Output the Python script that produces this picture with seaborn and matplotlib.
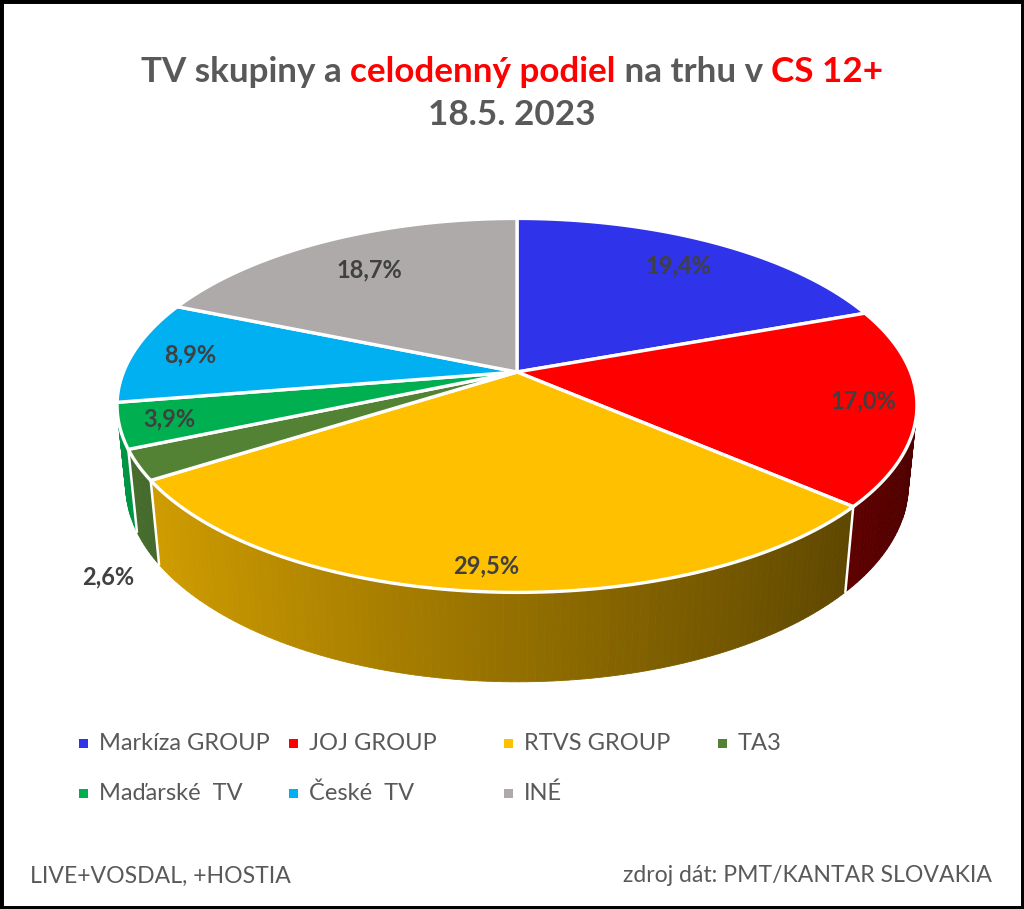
import numpy as np
import matplotlib
matplotlib.use("Agg")
import matplotlib.pyplot as plt
from matplotlib.patches import Polygon, Rectangle
from matplotlib.colors import to_rgb
import seaborn as sns

# data
groups = ["Markíza GROUP", "JOJ GROUP", "RTVS GROUP", "TA3", "Maďarské  TV", "České  TV", "INÉ"]
shares = [19.4, 17.0, 29.5, 2.6, 3.9, 8.9, 18.7]
colors = ["#2F33EA", "#FF0000", "#FFC000", "#548235", "#00B050", "#00B0F0", "#AEAAAA"]

title_parts = [("TV skupiny a ", "#595959"), ("celodenný podiel", "#FF0000"),
               (" na trhu v ", "#595959"), ("CS 12+", "#FF0000")]
subtitle = "18.5. 2023"
note_left = "LIVE+VOSDAL, +HOSTIA"
note_right = "zdroj dát: PMT/KANTAR SLOVAKIA"

# where each data label sits (radius fraction, height)
label_r = [0.8, 0.87, 0.9, 1.1, 0.88, 0.85, 0.75]
label_z = [0, 0, 0, -0.28, 0, 0, 0]

sns.set_theme(style="white")
plt.rcParams['font.family'] = ['Lato', 'DejaVu Sans']

W, H = 1024, 909
fig = plt.figure(figsize=(W / 100, H / 100), dpi=100)
ax = fig.add_axes([0, 0, 1, 1])
ax.set_xlim(0, W)
ax.set_ylim(H, 0)
ax.axis('off')

# 3d pie projection
CX, CY, S = 517, 372, 393.5
SIN_E, COS_E = 0.46, 0.888
DIST = 4.97
DEPTH = 0.229


def proj(X, Y, Z):
    v = Z * COS_E - Y * SIN_E
    d = Y * COS_E + Z * SIN_E
    k = DIST / (DIST - d)
    return CX + S * X * k, CY - S * v * k


def rim(t, z=0.0, r=1.0):
    return proj(r * np.cos(t), r * np.sin(t), z)


def shade(c, f):
    return tuple(min(1, x * f) for x in to_rgb(c))


angles = np.deg2rad(-90 + np.concatenate([[0], np.cumsum(shares)]) * 3.6)

# visible part of the rim
t_lo = np.arcsin(COS_E / DIST)
t_hi = np.pi - t_lo

# side walls (front half only)
for i, c in enumerate(colors):
    t0, t1 = max(angles[i], 0), min(angles[i + 1], t_hi)
    if t1 <= t0:
        continue
    ts = np.linspace(t0, t1, max(3, int(np.degrees(t1 - t0)) + 2))
    for a, b in zip(ts[:-1], ts[1:]):
        f = 0.58 - 0.28 * np.cos((a + b) / 2)
        col = shade(c, f)
        quad = [rim(a), rim(b), rim(b, -DEPTH), rim(a, -DEPTH)]
        ax.add_patch(Polygon(quad, closed=True, facecolor=col, edgecolor=col, lw=0.6))

for t in angles:
    tt = np.mod(t, 2 * np.pi)
    if t_lo < tt < t_hi:
        p, q = rim(tt), rim(tt, -DEPTH)
        ax.plot([p[0], q[0]], [p[1], q[1]], color="white", lw=1.8)

# top faces
for i, c in enumerate(colors):
    ts = np.linspace(angles[i], angles[i + 1], 120)
    pts = [proj(0, 0, 0)] + [rim(t) for t in ts]
    ax.add_patch(Polygon(pts, closed=True, facecolor=c, edgecolor="white",
                         lw=2.4, joinstyle="round"))

# data labels
for i, v in enumerate(shares):
    mid = (angles[i] + angles[i + 1]) / 2
    x, y = rim(mid, label_z[i], label_r[i])
    ax.text(x, y, f"{v:.1f}".replace(".", ",") + "%", ha="center", va="center",
            fontsize=17, fontweight="bold", color="#404040")

# title with coloured parts
fig.canvas.draw()
rend = fig.canvas.get_renderer()


def text_w(s, **kw):
    t = ax.text(0, 0, s, **kw)
    w = t.get_window_extent(rend).width
    t.remove()
    return w


tkw = dict(fontsize=25.2, fontweight="bold")
full = "".join(p for p, _ in title_parts)
total = text_w(full, **tkw)
bar = text_w("|", **tkw)
x0 = W / 2 - total / 2
prefix = ""
for part, col in title_parts:
    off = text_w(prefix + "|", **tkw) - bar if prefix else 0
    ax.text(x0 + off, 72, part, color=col, ha="left", va="center", **tkw)
    prefix += part
ax.text(W / 2, 115, subtitle, color="#595959", ha="center", va="center", **tkw)

# legend
leg_x = [83, 293, 508, 722]
leg_y = [743, 793]
for i, (g, c) in enumerate(zip(groups, colors)):
    lx, ly = leg_x[i % 4], leg_y[i // 4]
    ax.add_patch(Rectangle((lx - 4, ly - 4), 9, 9, facecolor=c, edgecolor="none"))
    ax.text(lx + 16, ly, g, ha="left", va="center", fontsize=17, color="#595959")

ax.text(30, 876, note_left, ha="left", va="center", fontsize=16.6, color="#595959")
ax.text(992, 876, note_right, ha="right", va="center", fontsize=16.6, color="#595959")

fig.patches.append(Rectangle((0, 0), 1, 1, transform=fig.transFigure, fill=False,
                             edgecolor="black", lw=5))

fig.savefig("out.png", dpi=100)
